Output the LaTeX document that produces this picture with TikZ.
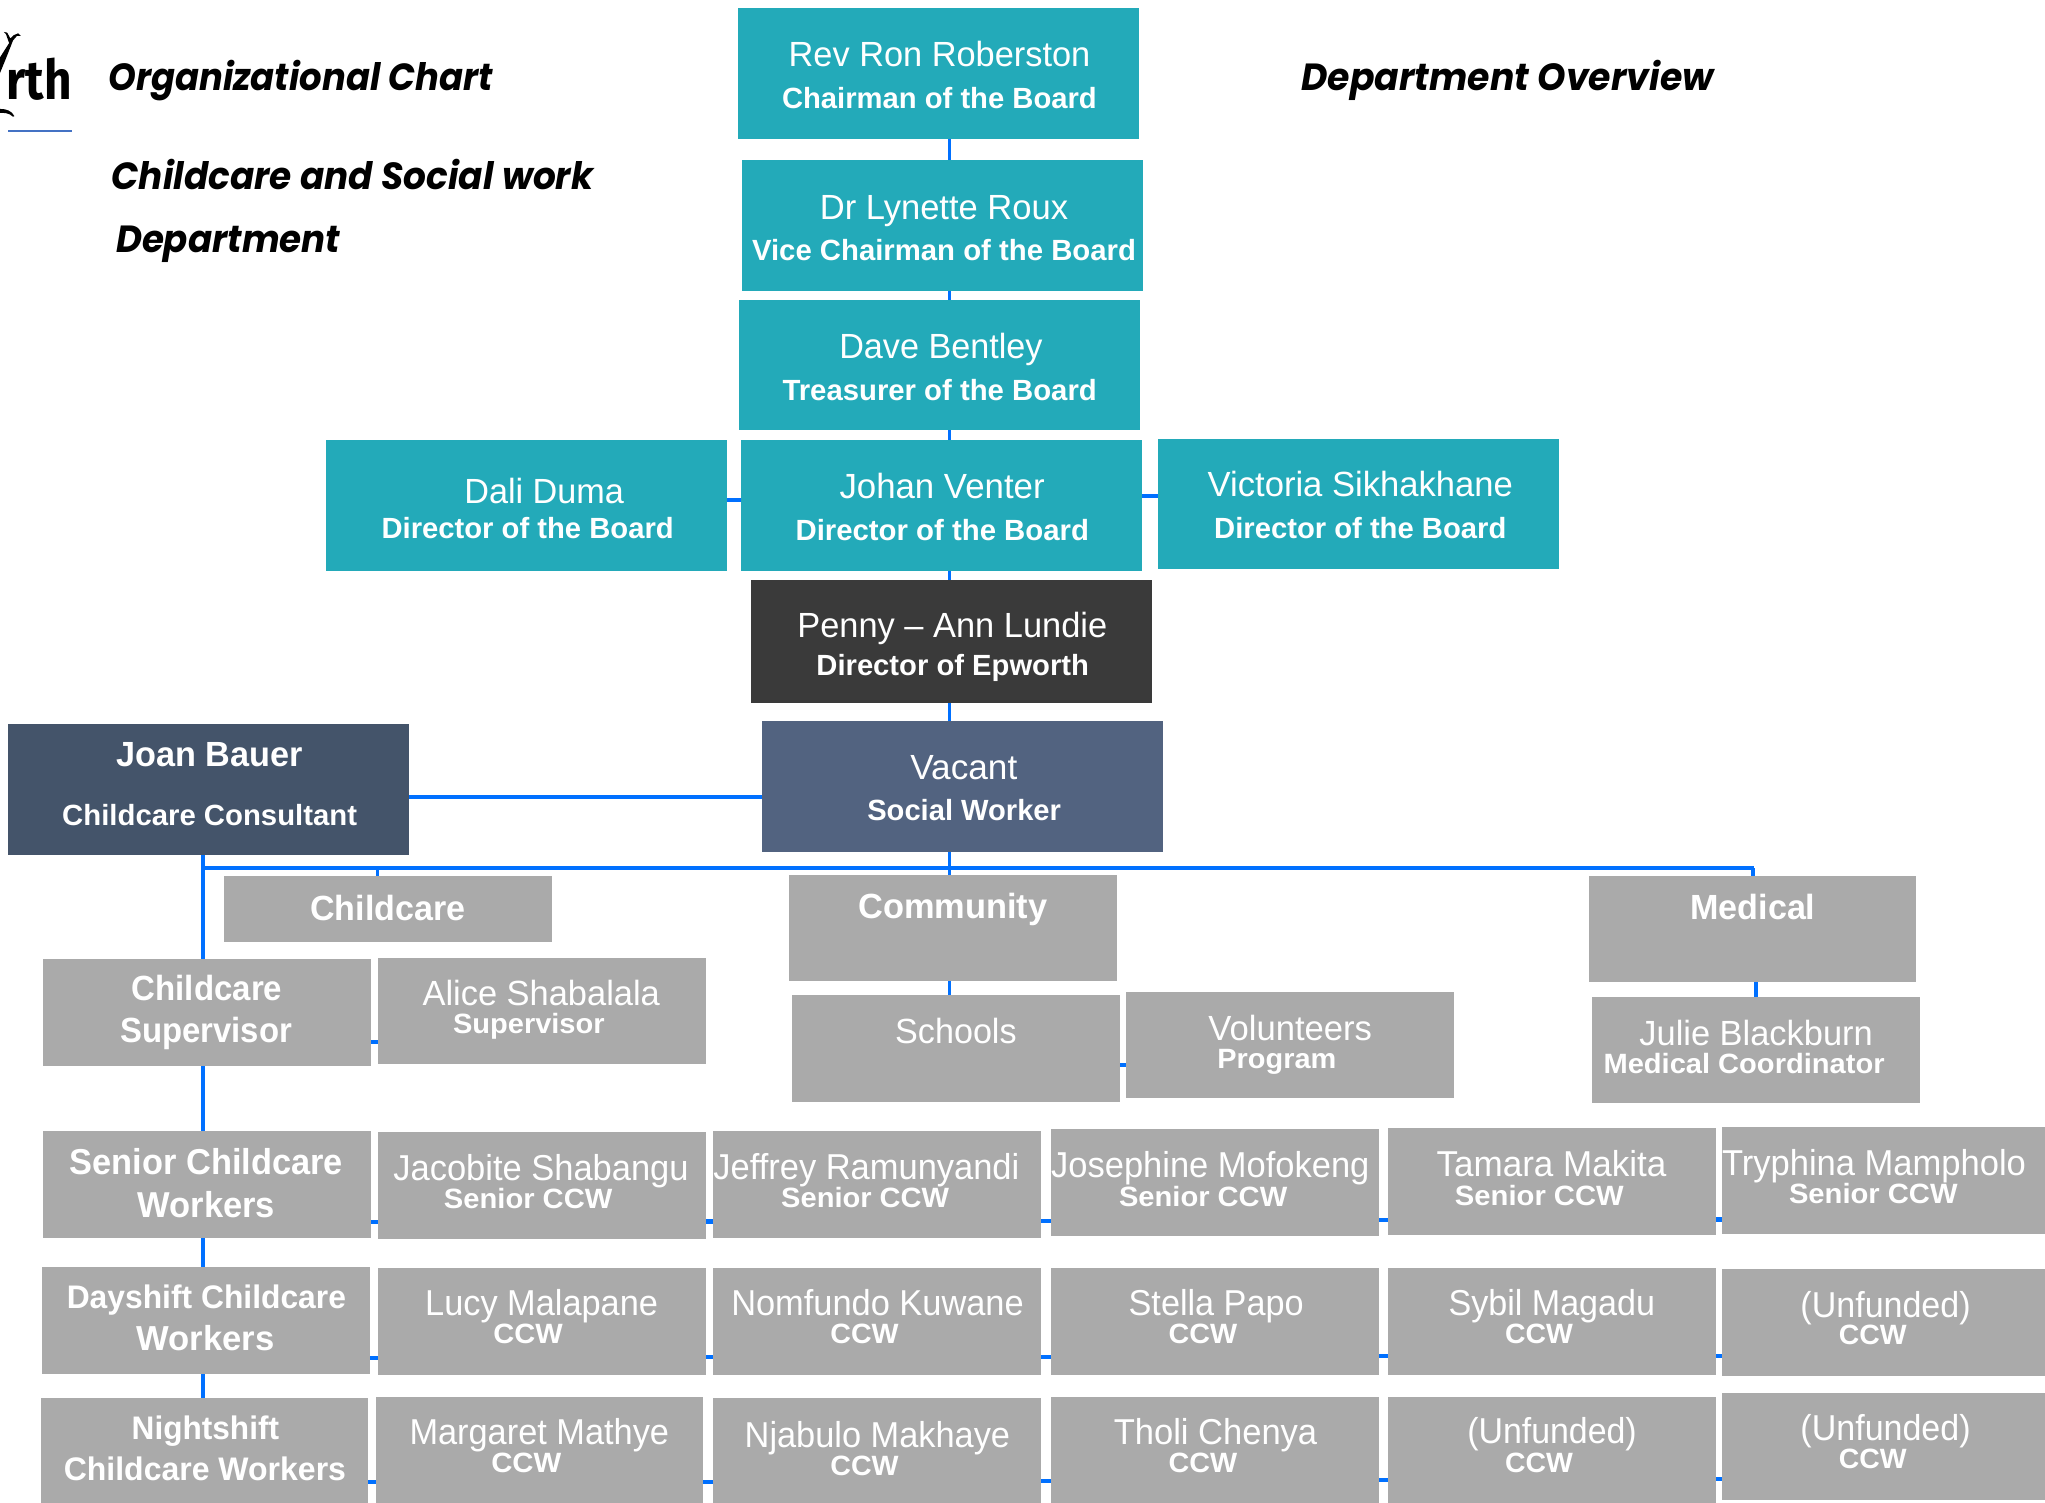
\documentclass[tikz,border=0pt]{standalone}
\usepackage{fontspec}
\usepackage{graphicx}
\setmainfont{Liberation Sans}
\newfontfamily\ttlfont{Poppins}[BoldItalicFont=* Bold Italic]
\newfontfamily\logofont{Fira Sans}
\usetikzlibrary{backgrounds}
\definecolor{teal}{HTML}{23AAB9}
\definecolor{grayb}{HTML}{AAAAAA}
\definecolor{darkb}{HTML}{3A3A3A}
\definecolor{vacb}{HTML}{526380}
\definecolor{joanb}{HTML}{44546A}
\definecolor{conn}{HTML}{0070FF}
\tikzset{
  boxn/.style={inner sep=0pt,outer sep=0pt,draw=none},
  tealbox/.style={boxn,fill=teal},
  graybox/.style={boxn,fill=grayb},
  darkbox/.style={boxn,fill=darkb},
  vacbox/.style={boxn,fill=vacb},
  joanbox/.style={boxn,fill=joanb},
  txt/.style={inner sep=0pt,outer sep=0pt,anchor=base,text=white},
  ttl/.style={inner sep=0pt,outer sep=0pt,anchor=base,text=black},
  vline/.style={draw=conn,line width=1.3pt},
  hline/.style={draw=conn,line width=1.6pt},
}
% box: name, x0, y0, x1, y1, style
\newcommand{\bx}[6]{%
  \pgfmathsetlengthmacro{\bw}{0.5*(#4-#2)}%
  \pgfmathsetlengthmacro{\bh}{0.5*(#5-#3)}%
  \node[#6,minimum width=\bw,minimum height=\bh] (#1) at ({(#2+#4)/2},{(#3+#5)/2}) {};}
% text line: name, x0, x1, baseline, size(pt), font switches, text
\newcommand{\tx}[7]{%
  \pgfmathsetlengthmacro{\tw}{0.5*(#3-#2)}%
  \node[txt] (#1) at ({(#2+#3)/2},#4) {\resizebox{\tw}{\height}{\fontsize{#5}{#5}\selectfont #6#7}};}
\newcommand{\ttx}[5]{%
  \pgfmathsetlengthmacro{\tw}{0.5*(#3-#2)}%
  \node[ttl] (#5) at ({(#2+#3)/2},#4) {\resizebox{\tw}{\height}{\fontsize{14.5}{14.5}\selectfont\ttlfont\bfseries\itshape #1}};}
% connectors
\newcommand{\hlink}[3]{\coordinate (lk) at (0,#3); \draw[hline] (#1.east |- lk) -- (#2.west |- lk);}
\newcommand{\vlink}[3]{\coordinate (lk) at (#3,0); \draw[vline] (#1.south -| lk) -- (#2.north -| lk);}
\begin{document}
\begin{tikzpicture}[x=0.5pt,y=-0.5pt]
\useasboundingbox (0,0) rectangle (1568,1152.4);
\clip (0,0) rectangle (1568,1152.4);
% logo
\fill[black] (0,44) -- (7,33) -- (4.5,26) -- (3,24.5) -- (5.5,25) -- (8,29.5) -- (10.5,27) -- (14,25.5) -- (16,27.5) -- (13,27.5) -- (10,31) -- (4.5,45) -- (0,56) -- cycle;
\fill[black] (0,83.5) .. controls (5,83.5) and (9,85) .. (11,89) -- (10,89.5) .. controls (7,86.5) and (3,86.5) .. (0,86.5) -- cycle;
\node[ttl] (logo) at (30,76.5) {\resizebox{25pt}{\height}{\fontsize{21}{21}\selectfont\logofont\bfseries rth}};
\draw[draw={rgb,255:red,68;green,114;blue,196},line width=0.5pt] (6.4,100.4) -- (55,100.4);
% titles
\ttx{Organizational Chart}{83}{378}{69.5}{ti1}
\ttx{Childcare and Social work}{85.6}{455}{145}{ti2}
\ttx{Department}{89}{261}{193.5}{ti3}
\ttx{Department Overview}{998}{1314}{69.5}{ti4}
% boxes
\bx{rev}{566}{6}{873.5}{106.6}{tealbox}
\bx{lyn}{569}{123}{876.5}{223}{tealbox}
\bx{dave}{567}{230}{874}{330}{tealbox}
\bx{johan}{568}{337}{875.5}{437.5}{tealbox}
\bx{dali}{250}{337}{557.5}{437.5}{tealbox}
\bx{vic}{888}{336.4}{1195.5}{436.5}{tealbox}
\bx{penny}{576}{445}{883.5}{539}{darkbox}
\bx{vac}{584}{553}{891.5}{653}{vacbox}
\bx{joan}{6}{555}{313.5}{655.5}{joanbox}
\bx{cc}{172}{672}{423}{722}{graybox}
\bx{comm}{605}{671}{856.5}{752.5}{graybox}
\bx{med}{1218}{672}{1469}{753}{graybox}
\bx{sup}{33}{735}{284.5}{817}{graybox}
\bx{alice}{290}{734.4}{541.5}{816}{graybox}
\bx{school}{607}{763}{858.5}{845}{graybox}
\bx{volun}{863}{760.4}{1114.5}{842}{graybox}
\bx{julie}{1221}{764.4}{1472}{846}{graybox}
\bx{sen}{33}{867.4}{284.5}{949.4}{graybox}
\bx{jac}{290}{868}{541.5}{950}{graybox}
\bx{jef}{547}{867}{798.5}{949}{graybox}
\bx{jos}{806}{866}{1057.5}{948}{graybox}
\bx{tam}{1064}{865}{1315.5}{947}{graybox}
\bx{try}{1320}{864.4}{1572}{946.4}{graybox}
\bx{day}{32}{971.4}{283.5}{1053.4}{graybox}
\bx{lucy}{290}{972}{541.5}{1054}{graybox}
\bx{nom}{547}{972}{798.5}{1054}{graybox}
\bx{ste}{806}{972}{1057.5}{1054}{graybox}
\bx{syb}{1064}{972}{1315.5}{1054}{graybox}
\bx{unb}{1320}{973}{1572}{1055}{graybox}
\bx{nig}{31.4}{1072}{282.5}{1156}{graybox}
\bx{mar}{288}{1071}{539}{1156}{graybox}
\bx{nja}{547}{1072}{798.5}{1156}{graybox}
\bx{tho}{806}{1071}{1057.5}{1156}{graybox}
\bx{unc}{1064}{1071}{1315.5}{1156}{graybox}
\bx{und}{1320}{1068}{1572}{1150}{graybox}
% connectors
\begin{scope}[on background layer]
\coordinate (busL) at (154.2,665.7);
\coordinate (busR) at (1345,665.7);
\draw[hline] (busL) -- (busR);
\vlink{rev}{lyn}{728}
\vlink{lyn}{dave}{728}
\vlink{dave}{johan}{728}
\vlink{johan}{penny}{728}
\vlink{penny}{vac}{728}
\coordinate (lk) at (728,0);
\draw[vline] (vac.south -| lk) -- (comm.north -| lk);
\vlink{comm}{school}{728}
\coordinate (lk) at (289.5,0);
\draw[vline] (busL -| lk) -- (cc.north -| lk);
\coordinate (lk) at (1344,0);
\draw[vline] (busR -| lk) -- (med.north -| lk);
\vlink{med}{julie}{1346.5}
\coordinate (lk) at (155.7,0);
\draw[hline] (joan.south -| lk) -- (sup.north -| lk);
\draw[hline] (sup.south -| lk) -- (sen.north -| lk);
\draw[hline] (sen.south -| lk) -- (day.north -| lk);
\draw[hline] (day.south -| lk) -- (nig.north -| lk);
\hlink{joan}{vac}{611}
\hlink{dali}{johan}{383.4}
\hlink{johan}{vic}{380.3}
\hlink{sup}{alice}{799}
\hlink{school}{volun}{816.6}
\hlink{sen}{jac}{937}
\hlink{jac}{jef}{936.5}
\hlink{jef}{jos}{936}
\hlink{jos}{tam}{935.5}
\hlink{tam}{try}{935}
\hlink{day}{lucy}{1041}
\hlink{lucy}{nom}{1040.6}
\hlink{nom}{ste}{1040.5}
\hlink{ste}{syb}{1040}
\hlink{syb}{unb}{1039.5}
\hlink{nig}{mar}{1136}
\hlink{mar}{nja}{1136}
\hlink{nja}{tho}{1135.4}
\hlink{tho}{unc}{1135}
\hlink{unc}{und}{1134}
\end{scope}
% texts
\def\N{13.4}\def\B{11.2}\def\S{10.7}\def\M{13.8}
\tx{t1a}{604.7}{836}{51}{\N}{}{Rev Ron Roberston}
\tx{t1b}{599.6}{841}{83}{\B}{\bfseries}{Chairman of the Board}
\tx{t2a}{628.6}{819}{168}{\N}{}{Dr Lynette Roux}
\tx{t2b}{576.6}{871}{199.5}{\B}{\bfseries}{Vice Chairman of the Board}
\tx{t3a}{643.5}{799.4}{274.5}{\N}{}{Dave Bentley}
\tx{t3b}{600}{841}{307}{\B}{\bfseries}{Treasurer of the Board}
\tx{t4a}{643.7}{801}{382.5}{\N}{}{Johan Venter}
\tx{t4b}{610}{835}{414.5}{\B}{\bfseries}{Director of the Board}
\tx{t5a}{356}{478.5}{386}{\N}{}{Dali Duma}
\tx{t5b}{292.6}{516.6}{413}{\B}{\bfseries}{Director of the Board}
\tx{t6a}{926}{1160}{381}{\N}{}{Victoria Sikhakhane}
\tx{t6b}{931}{1155}{412.5}{\B}{\bfseries}{Director of the Board}
\tx{t7a}{611.4}{849}{489}{\N}{}{Penny – Ann Lundie}
\tx{t7b}{626}{835}{518}{\B}{\bfseries}{Director of Epworth}
\tx{t8a}{698}{780}{598}{\N}{}{Vacant}
\tx{t8b}{665}{813.5}{629}{\B}{\bfseries}{Social Worker}
\tx{t9a}{89}{232}{588}{\N}{\bfseries}{Joan Bauer}
\tx{t9b}{47.7}{273.8}{633}{\B}{\bfseries}{Childcare Consultant}
\tx{c1}{238}{357}{705.6}{\N}{\bfseries}{Childcare}
\tx{c2}{658}{803}{704.4}{\N}{\bfseries}{Community}
\tx{c3}{1296}{1392}{705}{\N}{\bfseries}{Medical}
\tx{s1a}{101}{216.4}{767}{\N}{\bfseries}{Childcare}
\tx{s1b}{92.3}{224}{799.4}{\N}{\bfseries}{Supervisor}
\tx{s2a}{324}{506}{771}{\N}{}{Alice Shabalala}
\tx{s2b}{347.4}{463.6}{792.5}{\S}{\bfseries}{Supervisor}
\tx{s3a}{686.4}{779.5}{800}{\N}{}{Schools}
\tx{s4a}{926.5}{1052}{797.8}{\N}{}{Volunteers}
\tx{s4b}{933.4}{1024.6}{819}{\S}{\bfseries}{Program}
\tx{s5a}{1257}{1436}{801.6}{\N}{}{Julie Blackburn}
\tx{s5b}{1229.5}{1445}{822.8}{\S}{\bfseries}{Medical Coordinator}
\tx{r1a}{53.6}{263}{900.5}{\M}{\bfseries}{Senior Childcare}
\tx{r1b}{105.6}{211}{933.4}{\M}{\bfseries}{Workers}
\tx{r2a}{301.6}{528}{905.2}{\M}{}{Jacobite Shabangu}
\tx{r2b}{340.4}{469.5}{926.8}{\S}{\bfseries}{Senior CCW}
\tx{r3a}{547}{781.6}{904.6}{\M}{}{Jeffrey Ramunyandi}
\tx{r3b}{599}{727.7}{926}{\S}{\bfseries}{Senior CCW}
\tx{r4a}{806}{1050}{902.6}{\M}{}{Josephine Mofokeng}
\tx{r4b}{858}{987}{924.8}{\S}{\bfseries}{Senior CCW}
\tx{r5a}{1101.5}{1277.7}{901.8}{\M}{}{Tamara Makita}
\tx{r5b}{1115.6}{1245}{924.4}{\S}{\bfseries}{Senior CCW}
\tx{r6a}{1320.4}{1553.4}{901.4}{\M}{}{Tryphina Mampholo}
\tx{r6b}{1371.7}{1501}{923}{\S}{\bfseries}{Senior CCW}
\tx{d1a}{51.2}{265.3}{1003.4}{12.5}{\bfseries}{Dayshift Childcare}
\tx{d1b}{104.8}{210.5}{1035.4}{13.3}{\bfseries}{Workers}
\tx{d2a}{326}{504.6}{1008.6}{\M}{}{Lucy Malapane}
\tx{d2b}{378.3}{431.5}{1030.2}{\S}{\bfseries}{CCW}
\tx{d3a}{560.7}{785}{1009}{\M}{}{Nomfundo Kuwane}
\tx{d3b}{636.7}{689}{1030.2}{\S}{\bfseries}{CCW}
\tx{d4a}{865.4}{999.6}{1009}{\M}{}{Stella Papo}
\tx{d4b}{896}{948.6}{1030.2}{\S}{\bfseries}{CCW}
\tx{d5a}{1110.7}{1269}{1009}{\M}{}{Sybil Magadu}
\tx{d5b}{1154}{1206}{1030.2}{\S}{\bfseries}{CCW}
\tx{d6a}{1380.5}{1511}{1010}{\M}{}{(Unfunded)}
\tx{d6b}{1410}{1462}{1030.8}{\S}{\bfseries}{CCW}
\tx{n1a}{101}{214}{1104}{12.5}{\bfseries}{Nightshift}
\tx{n1b}{48.9}{265.3}{1134.8}{12.5}{\bfseries}{Childcare Workers}
\tx{n2a}{314}{513}{1107.8}{\M}{}{Margaret Mathye}
\tx{n2b}{376.7}{430.4}{1128.8}{\S}{\bfseries}{CCW}
\tx{n3a}{571}{774.5}{1109.6}{\M}{}{Njabulo Makhaye}
\tx{n3b}{636.7}{689}{1131.2}{\S}{\bfseries}{CCW}
\tx{n4a}{854}{1010}{1107.8}{\M}{}{Tholi Chenya}
\tx{n4b}{896}{948.6}{1129.2}{\S}{\bfseries}{CCW}
\tx{n5a}{1125}{1255}{1107}{\M}{}{(Unfunded)}
\tx{n5b}{1154}{1206}{1129.2}{\S}{\bfseries}{CCW}
\tx{n6a}{1380.5}{1511}{1104.4}{\M}{}{(Unfunded)}
\tx{n6b}{1410}{1462}{1126.2}{\S}{\bfseries}{CCW}
\end{tikzpicture}
\end{document}
